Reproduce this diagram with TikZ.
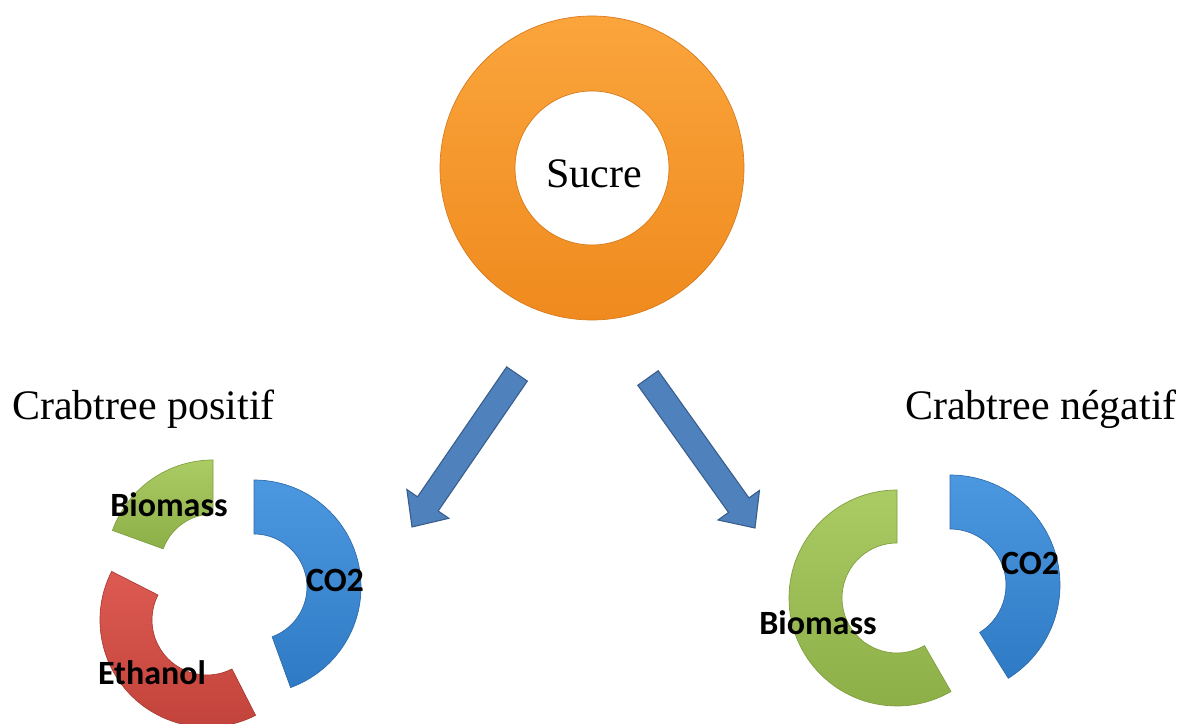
\documentclass[tikz,border=0pt]{standalone}
\usepackage{fontspec}
\setmainfont{Liberation Serif}
\newfontfamily\labelfont{Carlito}
\usetikzlibrary{calc}

\definecolor{orangetop}{HTML}{FAA53C}
\definecolor{orangebot}{HTML}{EF8A1E}
\definecolor{orangeline}{HTML}{D9791A}
\definecolor{greentop}{HTML}{ABCB64}
\definecolor{greenbot}{HTML}{8DAF47}
\definecolor{greenline}{HTML}{7F9E3F}
\definecolor{bluetop}{HTML}{4C98E0}
\definecolor{bluebot}{HTML}{2F7AC4}
\definecolor{blueline}{HTML}{2C6AAA}
\definecolor{redtop}{HTML}{DC5A51}
\definecolor{redbot}{HTML}{C2433B}
\definecolor{redline}{HTML}{A93A33}
\definecolor{arrowblue}{HTML}{4F81BD}
\definecolor{arrowline}{HTML}{385D8A}

% ring piece: centre, start angle, end angle, outer radius, inner radius, style
\newcommand{\ringpart}[6]{%
  \shadedraw[#6] ($(#1)+(#2:#4)$) arc[start angle=#2, end angle=#3, radius=#4]
    -- ($(#1)+(#3:#5)$) arc[start angle=#3, end angle=#2, radius=#5] -- cycle;}

% block arrow: start, tip, name of the head base
\newcommand{\fatarrow}[3]{%
  \coordinate (#3) at ($(#2)!21pt!(#1)$);
  \draw[bluearrow] ($(#1)!9.4pt!90:(#2)$) -- ($(#3)!9.4pt!90:(#2)$)
    -- ($(#3)!19.1pt!90:(#2)$) -- (#2) -- ($(#3)!19.1pt!-90:(#2)$)
    -- ($(#3)!9.4pt!-90:(#2)$) -- ($(#1)!9.4pt!-90:(#2)$) -- cycle;}

\begin{document}
\begin{tikzpicture}[x=0.75pt, y=0.75pt]
 \tikzstyle{heading} = [font=\fontsize{31.5}{36}\selectfont, inner sep=0pt];
 \tikzstyle{partlabel} = [font=\labelfont\bfseries\fontsize{25.5}{30}\selectfont, inner sep=0pt];
 \tikzstyle{bluearrow} = [fill=arrowblue, draw=arrowline, line width=0.8pt, line join=miter];
 \tikzstyle{orangepart} = [top color=orangetop, bottom color=orangebot, draw=orangeline, line width=0.5pt];
 \tikzstyle{greenpart} = [top color=greentop, bottom color=greenbot, draw=greenline, line width=0.5pt];
 \tikzstyle{bluepart} = [top color=bluetop, bottom color=bluebot, draw=blueline, line width=0.5pt];
 \tikzstyle{redpart} = [top color=redtop, bottom color=redbot, draw=redline, line width=0.5pt];

\fill [white] (0,0) rectangle (1186,724);
\useasboundingbox (0,0) rectangle (1186,724);

% sugar ring
\coordinate (oc) at (592,556);
\shadedraw [orangepart, even odd rule] (oc) circle [radius=152] (oc) circle [radius=77];
\node [heading, anchor=base] (sucre) at (594,536) {Sucre};

% headings
\node [heading, anchor=base west] (pos) at (12,304) {Crabtree positif};
\node [heading, anchor=base east] (neg) at (1177,304) {Crabtree négatif};

% arrows
\coordinate (a1s) at (517,350);
\coordinate (a1e) at (412,197);
\coordinate (a2s) at (648,346);
\coordinate (a2e) at (755,196);
\fatarrow{a1s}{a1e}{a1h}
\fatarrow{a2s}{a2e}{a2h}

% positive group
\coordinate (cG1) at (213,157);
\coordinate (cR1) at (207,104);
\coordinate (cB1) at (254,137);
\ringpart{cG1}{90}{160}{107}{53}{greenpart}
\ringpart{cR1}{153}{297}{107}{55}{redpart}
\ringpart{cB1}{90}{-70}{107}{53}{bluepart}
\node [partlabel, anchor=base] (bioL) at (169,207) {Biomass};
\node [partlabel, anchor=base] (co2L) at (335,132) {CO2};
\node [partlabel, anchor=base] (ethL) at (152,39) {Ethanol};

% negative group
\coordinate (cG2) at (897,126);
\coordinate (cB2) at (950,139);
\ringpart{cG2}{90}{300}{108}{55}{greenpart}
\ringpart{cB2}{90}{-58}{110}{56}{bluepart}
\node [partlabel, anchor=base] (bioR) at (818,89) {Biomass};
\node [partlabel, anchor=base] (co2R) at (1030,149) {CO2};

\end{tikzpicture}
\end{document}
